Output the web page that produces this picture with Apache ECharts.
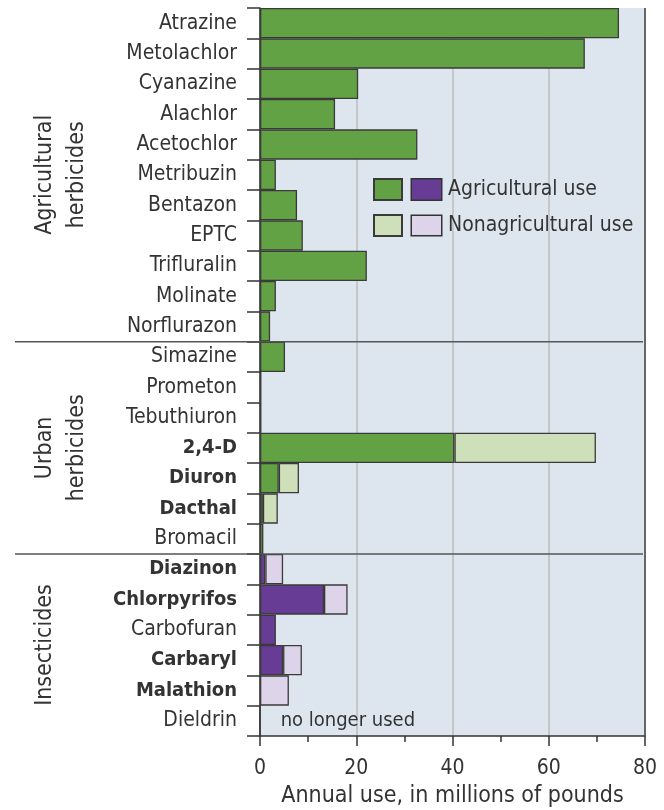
<!DOCTYPE html>
<html>
<head>
<meta charset="utf-8">
<script src="https://cdn.jsdelivr.net/npm/echarts@6/dist/echarts.min.js"></script>
<style>
  html, body { margin: 0; padding: 0; background: #fff; }
  #chart { width: 664px; height: 810px; }
</style>
</head>
<body>
<div id="chart"></div>
<script>
var categories = ['Atrazine', 'Metolachlor', 'Cyanazine', 'Alachlor', 'Acetochlor', 'Metribuzin',
    'Bentazon', 'EPTC', 'Trifluralin', 'Molinate', 'Norflurazon',
    'Simazine', 'Prometon', 'Tebuthiuron', '2,4-D', 'Diuron', 'Dacthal', 'Bromacil',
    'Diazinon', 'Chlorpyrifos', 'Carbofuran', 'Carbaryl', 'Malathion', 'Dieldrin'];
// millions of pounds per year
var agUse    = [74.6, 67.5, 20.4, 15.6, 32.7, 3.3, 7.7, 8.9, 22.2, 3.3, 2.1,
    5.2, 0.3, 0.3, 40.4, 3.9, 0.6, 0.7,
    1.1, 13.3, 3.3, 4.8, 0, 0];
var nonAgUse = [0, 0, 0, 0, 0, 0, 0, 0, 0, 0, 0,
    0, 0, 0, 29.4, 4.2, 3.1, 0,
    3.7, 4.9, 0, 3.9, 6.0, 0];
var boldNames = ['2,4-D', 'Diuron', 'Dacthal', 'Diazinon', 'Chlorpyrifos', 'Carbaryl', 'Malathion'];
var insecticides = ['Diazinon', 'Chlorpyrifos', 'Carbofuran', 'Carbaryl', 'Malathion', 'Dieldrin'];
var xTicks = [0, 20, 40, 60, 80];
var groups = [
    { lines: ['Agricultural', 'herbicides'], first: 'Atrazine', last: 'Norflurazon' },
    { lines: ['Urban', 'herbicides'], first: 'Simazine', last: 'Bromacil' },
    { lines: ['Insecticides'], first: 'Diazinon', last: 'Dieldrin' }
];

var FONT = '"DejaVu Sans Condensed", "Liberation Sans Narrow", sans-serif';
var TXT = '#333';
var green = '#63a244', lightGreen = '#cde0b9';
var purple = '#673c95', lightPurple = '#ddd4e9';

var chart = echarts.init(document.getElementById('chart'));

function buildData(vals, isAg) {
    return vals.map(function (v, i) {
        var name = categories[i];
        var ins = insecticides.indexOf(name) >= 0;
        var item = {
            value: (v === 0 && !(isAg && name === 'Dieldrin')) ? '-' : v,
            itemStyle: { color: ins ? (isAg ? purple : lightPurple) : (isAg ? green : lightGreen) }
        };
        if (isAg && name === 'Dieldrin') {
            item.label = {
                show: true, position: 'right', distance: 20,
                formatter: 'no longer used',
                fontFamily: FONT, fontSize: 20, color: TXT
            };
        }
        return item;
    });
}

var option = {
    animation: false,
    grid: {
        left: 260, right: 19, top: 8, bottom: 74,
        outerBoundsMode: 'none',
        show: true, backgroundColor: '#dde6ef', borderWidth: 0
    },
    legend: {
        orient: 'vertical',
        left: 373, top: 178,
        padding: 0,
        itemWidth: 28, itemHeight: 21, itemGap: 13,
        icon: 'rect',
        selectedMode: false,
        data: ['Agricultural use', 'Nonagricultural use'],
        formatter: function (name) {
            return (name === 'Agricultural use' ? '{s|}{pa|}' : '{s|}{pn|}') + '{g|}{t|' + name + '}';
        },
        textStyle: {
            fontFamily: FONT, fontSize: 21, color: TXT,
            rich: {
                s: { width: 5 },
                g: { width: 7 },
                pa: { width: 29, height: 20, backgroundColor: purple, borderColor: '#333', borderWidth: 1.5 },
                pn: { width: 29, height: 19, backgroundColor: lightPurple, borderColor: '#333', borderWidth: 1.5 },
                t: { fontFamily: FONT, fontSize: 21, color: TXT }
            }
        }
    },
    xAxis: {
        type: 'value',
        min: xTicks[0], max: xTicks[xTicks.length - 1], interval: 20,
        name: 'Annual use, in millions of pounds',
        nameLocation: 'middle', nameGap: 49,
        nameTextStyle: { fontFamily: FONT, fontSize: 23, color: TXT },
        axisLine: { show: true, lineStyle: { color: '#333', width: 1.5 } },
        axisTick: { show: true, length: 10, lineStyle: { color: '#333', width: 1.5 } },
        minorTick: { show: true, splitNumber: 2, length: 6, lineStyle: { color: '#333', width: 1.5 } },
        axisLabel: { margin: 22, fontFamily: FONT, fontSize: 21, color: TXT },
        splitLine: { show: true, lineStyle: { color: '#bcbcbc', width: 1.5 } }
    },
    yAxis: {
        type: 'category',
        inverse: true,
        data: categories,
        axisLine: { show: true, lineStyle: { color: '#333', width: 1.5 } },
        axisTick: { show: true, length: 13, lineStyle: { color: '#333', width: 1.5 } },
        axisLabel: {
            margin: 23,
            formatter: function (v) {
                return boldNames.indexOf(v) >= 0 ? '{b|' + v + '}' : '{n|' + v + '}';
            },
            rich: {
                n: { fontFamily: FONT, fontSize: 21, color: TXT },
                b: { fontFamily: FONT, fontSize: 20, fontWeight: 'bold', color: TXT }
            }
        }
    },
    series: [
        {
            name: 'Agricultural use', type: 'bar', stack: 'use',
            barCategoryGap: 0,
            color: green,
            itemStyle: { borderColor: '#3a3a3a', borderWidth: 1.3 },
            data: buildData(agUse, true)
        },
        {
            name: 'Nonagricultural use', type: 'bar', stack: 'use',
            barCategoryGap: 0,
            color: lightGreen,
            itemStyle: { borderColor: '#3a3a3a', borderWidth: 1.3 },
            data: buildData(nonAgUse, false)
        }
    ]
};
chart.setOption(option);

// group separators, right frame and rotated group titles
function bandEdge(name, side) {
    var i = categories.indexOf(name);
    var c = chart.convertToPixel({ yAxisIndex: 0 }, name);
    var next = chart.convertToPixel({ yAxisIndex: 0 }, categories[i + (i < categories.length - 1 ? 1 : -1)]);
    var half = Math.abs(next - c) / 2;
    return side === 'top' ? c - half : c + half;
}
var xMax = chart.convertToPixel({ xAxisIndex: 0 }, xTicks[xTicks.length - 1]);
var yTop = bandEdge(categories[0], 'top');
var yBottom = bandEdge(categories[categories.length - 1], 'bottom');

var graphics = [{
    type: 'line', silent: true, z: 50,
    shape: { x1: xMax, y1: yTop, x2: xMax, y2: yBottom },
    style: { stroke: '#444', lineWidth: 1.5 }
}];
groups.forEach(function (g, gi) {
    var top = bandEdge(g.first, 'top');
    var bottom = bandEdge(g.last, 'bottom');
    if (gi > 0) {
        graphics.push({
            type: 'line', silent: true, z: 50,
            shape: { x1: 15, y1: top, x2: xMax - 2, y2: top },
            style: { stroke: '#555', lineWidth: 1.5 }
        });
    }
    g.lines.forEach(function (line, li) {
        graphics.push({
            type: 'text', silent: true,
            x: 45 + li * 32, y: (top + bottom) / 2,
            rotation: Math.PI / 2,
            style: {
                text: line, fontFamily: FONT, fontSize: 23, fill: TXT,
                align: 'center', verticalAlign: 'middle'
            }
        });
    });
});
chart.setOption({ graphic: graphics });
</script>
</body>
</html>
